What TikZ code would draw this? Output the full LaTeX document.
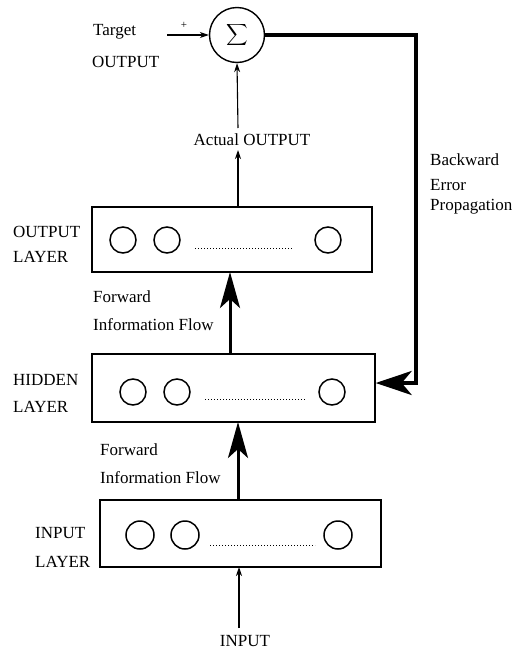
\documentclass[tikz,border=0pt]{standalone}
\usepackage{fontspec}
\setmainfont{Liberation Serif}
\usetikzlibrary{arrows.meta}
\tikzset{
  lbl/.style={inner sep=0pt, font=\fontsize{17}{20}\selectfont, anchor=west},
  layerbox/.style={draw, line width=1.4pt, inner sep=0pt, minimum width=#1},
  neuron/.style={draw, circle, line width=1.5pt, inner sep=0pt, minimum size=26pt},
  thinarrow/.style={line width=1.1pt, -{Stealth[length=9pt,width=6pt]}},
  thickarrow/.style={line width=3pt, -{Stealth[length=36pt,width=20pt,inset=9pt]}},
  feedback/.style={line width=4pt, -{Stealth[length=36pt,width=24pt,inset=10pt]}},
  dots/.style={line width=1pt, dotted},
}
\begin{document}
\begin{tikzpicture}[x=1pt,y=-1pt]
\useasboundingbox (0,0) rectangle (517,651);

% summation
\node[draw, circle, line width=1.4pt, minimum size=55pt, inner sep=0pt] (sum) at (237,35) {\scalebox{1.5}{\fontsize{17}{20}\selectfont$\displaystyle\sum$}};
\node[lbl] (target1) at (93,32) {Target};
\node[lbl] (target2) at (92,62) {OUTPUT};
\node[inner sep=0pt, font=\fontsize{11}{12}\selectfont] (plus) at (184,25) {+};
\coordinate (tstart) at (167,35);
\draw[thinarrow] (tstart) -- (sum.west);

% actual output
\node[inner sep=0pt, font=\fontsize{17}{20}\selectfont] (actual) at (252,140) {Actual OUTPUT};

% layer boxes
\node[layerbox=280pt, minimum height=65pt] (outbox) at (232,239.5) {};
\node[layerbox=283pt, minimum height=68pt] (hidbox) at (233.5,388) {};
\node[layerbox=281pt, minimum height=67pt] (inbox) at (240.5,533.5) {};

% neurons
\node[neuron] (o1) at (123,240) {};
\node[neuron] (o2) at (167,240) {};
\node[neuron] (o3) at (328,240) {};
\node[neuron] (h1) at (133,392) {};
\node[neuron] (h2) at (177,392) {};
\node[neuron] (h3) at (332,392) {};
\node[neuron, minimum size=28pt] (i1) at (140,535) {};
\node[neuron, minimum size=28pt] (i2) at (185,535) {};
\node[neuron, minimum size=28pt] (i3) at (338,535) {};
\draw[dots] (195,248) -- (293,248);
\draw[dots] (205,399) -- (305,399);
\draw[dots] (210,545) -- (315,545);

% layer labels
\node[lbl] (outlab1) at (13,232) {OUTPUT};
\node[lbl] (outlab2) at (13,257) {LAYER};
\node[lbl] (hidlab1) at (13,380) {HIDDEN};
\node[lbl] (hidlab2) at (13,407) {LAYER};
\node[lbl] (inlab1) at (35,533) {INPUT};
\node[lbl] (inlab2) at (35,562) {LAYER};

% forward labels
\node[lbl] (fwd1) at (93,297) {Forward};
\node[lbl] (fwd2) at (93,325) {Information Flow};
\node[lbl] (fwd3) at (100,450) {Forward};
\node[lbl] (fwd4) at (100,478) {Information Flow};

% backward labels
\node[lbl] (back1) at (430,160) {Backward};
\node[lbl] (back2) at (430,185) {Error};
\node[lbl] (back3) at (430,207) {Propagation};

% input
\node[inner sep=0pt, font=\fontsize{17}{20}\selectfont] (inputtxt) at (245,641) {INPUT};
\coordinate (intail) at (239,628);
\coordinate (inhead) at (239,567);

% connectors
\draw[thinarrow] (intail) -- (inhead);
\draw[thickarrow] (238,500) coordinate (ia) -- (238,422) coordinate (ib);
\draw[thickarrow] (230,354) coordinate (ha) -- (230,272) coordinate (hb);
\coordinate (ao) at (238,207);
\coordinate (aa) at (238,150);
\coordinate (ac) at (238,128);
\draw[thinarrow] (ao) -- (aa);
\draw[thinarrow] (ac) -- (sum.south);

\coordinate (fbtop) at (416,35);
\coordinate (fbbot) at (416,383);
\draw[feedback] (sum.east) -- (fbtop) -- (fbbot) -- (hidbox.east |- fbbot);
\end{tikzpicture}
\end{document}
